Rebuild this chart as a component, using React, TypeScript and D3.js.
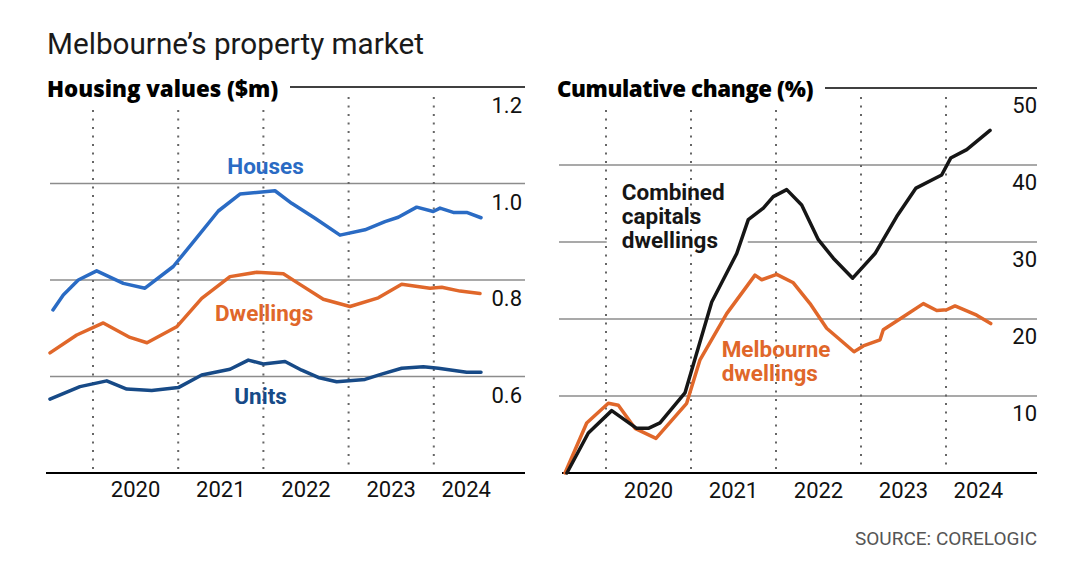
import React from "react";
import * as d3 from "d3";

// ---------- DATA ----------
const yearLines = [2020, 2021, 2022, 2023, 2024];
const yearLabels = ["2020", "2021", "2022", "2023", "2024"];
const yearLabelPos = [2020.5, 2021.5, 2022.5, 2023.5, 2024.38];

const valueTicks = [0.6, 0.8, 1.0];
const valueTickLabels = ["0.6", "0.8", "1.0"];
const valueTop = 1.2;
const valueTopLabel = "1.2";
const valueBottom = 0.4;

const changeTicks = [10, 20, 30, 40];
const changeTickLabels = ["10", "20", "30", "40"];
const changeTop = 50;
const changeTopLabel = "50";
const changeBottom = 0;

// Housing values ($m): [decimal year, value]
const houses: [number, number][] = [
  [2019.53, 0.738], [2019.651, 0.769], [2019.827, 0.8], [2020.043, 0.819],
  [2020.356, 0.793], [2020.61, 0.783], [2020.942, 0.828], [2021.197, 0.883],
  [2021.471, 0.943], [2021.725, 0.978], [2022.136, 0.985], [2022.332, 0.959],
  [2022.606, 0.928], [2022.899, 0.893], [2023.192, 0.904], [2023.427, 0.921],
  [2023.583, 0.93], [2023.799, 0.951], [2023.994, 0.942], [2024.073, 0.949],
  [2024.229, 0.94], [2024.386, 0.94], [2024.554, 0.929],
];
const dwellings: [number, number][] = [
  [2019.495, 0.649], [2019.809, 0.686], [2020.121, 0.711], [2020.434, 0.681],
  [2020.634, 0.67], [2020.982, 0.703], [2021.276, 0.762], [2021.608, 0.807],
  [2021.921, 0.816], [2022.234, 0.813], [2022.41, 0.793], [2022.703, 0.76],
  [2023.016, 0.745], [2023.349, 0.763], [2023.623, 0.791], [2023.955, 0.783],
  [2024.093, 0.785], [2024.308, 0.777], [2024.542, 0.772],
];
const units: [number, number][] = [
  [2019.495, 0.553], [2019.847, 0.579], [2020.161, 0.591], [2020.396, 0.574],
  [2020.689, 0.571], [2021.001, 0.577], [2021.276, 0.603], [2021.608, 0.615],
  [2021.823, 0.634], [2021.999, 0.626], [2022.254, 0.631], [2022.45, 0.613],
  [2022.644, 0.598], [2022.86, 0.589], [2023.192, 0.594], [2023.388, 0.605],
  [2023.623, 0.617], [2023.877, 0.62], [2024.053, 0.617], [2024.386, 0.609],
  [2024.554, 0.609],
];

// Cumulative change (%)
const combinedCapitals: [number, number][] = [
  [2019.54, 0], [2019.792, 5.2], [2020.067, 8.1], [2020.361, 5.8],
  [2020.498, 5.8], [2020.635, 6.5], [2020.929, 10.4], [2021.244, 22.2],
  [2021.538, 28.5], [2021.674, 32.9], [2021.851, 34.4], [2021.968, 35.9],
  [2022.126, 36.8], [2022.302, 34.8], [2022.498, 30.3], [2022.674, 27.9],
  [2022.902, 25.3], [2023.165, 28.5], [2023.42, 33.3], [2023.647, 37.0],
  [2023.949, 38.7], [2024.055, 40.9], [2024.244, 42.0], [2024.518, 44.5],
];
const melbourneDwellings: [number, number][] = [
  [2019.518, 0], [2019.773, 6.5], [2020.027, 9.05], [2020.145, 8.8],
  [2020.341, 5.8], [2020.588, 4.5], [2020.949, 9.05], [2021.106, 14.7],
  [2021.42, 20.7], [2021.753, 25.7], [2021.832, 25.1], [2022.008, 25.8],
  [2022.204, 24.7], [2022.4, 22.0], [2022.596, 18.8], [2022.918, 15.75],
  [2023.027, 16.5], [2023.224, 17.3], [2023.262, 18.6], [2023.498, 20.3],
  [2023.733, 22.0], [2023.891, 21.1], [2024.008, 21.2], [2024.106, 21.7],
  [2024.361, 20.5], [2024.526, 19.4],
];

// ---------- STYLE ----------
const C_HOUSES = "#2a6bc4";
const C_DWELL = "#e0672a";
const C_UNITS = "#174a87";
const C_BLACK = "#161616";
const C_GRID = "#8c8c8c";
const C_DOT = "#666";
const FONT = "Roboto, 'Noto Sans', sans-serif";
const HEAD_FONT = "'Open Sans', Roboto, sans-serif";

type Label = { lines: string[]; x: number; y: number; color: string; padL: number; w: number };

export default function App() {
  const W = 1080, H = 586;

  const xL = d3.scaleLinear().domain([2020, 2024]).range([93, 433.8]);
  const yL = d3.scaleLinear().domain([valueBottom, valueTop]).range([473, 87]);
  const xR = d3.scaleLinear().domain([2020, 2024]).range([606, 946]);
  const yR = d3.scaleLinear().domain([changeBottom, changeTop]).range([473, 88]);

  const lineL = d3.line<[number, number]>().x((d) => xL(d[0])).y((d) => yL(d[1]));
  const lineR = d3.line<[number, number]>().x((d) => xR(d[0])).y((d) => yR(d[1]));

  const leftPanel = { x0: 50, axisX0: 46, x1: 525, headerLineX: 290, headerEnd: 279 };
  const rightPanel = { x0: 559, axisX0: 562, x1: 1037, headerLineX: 825, headerEnd: 813 };

  const leftLabels: Label[] = [
    { lines: ["Houses"], x: xL(2021.576), y: yL(1.019), color: C_HOUSES, padL: 4, w: 82 },
    { lines: ["Dwellings"], x: xL(2021.432), y: yL(0.714), color: C_DWELL, padL: 4, w: 110 },
    { lines: ["Units"], x: xL(2021.658), y: yL(0.544), color: C_UNITS, padL: 4, w: 62 },
  ];
  const rightLabels: Label[] = [
    { lines: ["Combined", "capitals", "dwellings"], x: xR(2020.185), y: yR(35.5), color: C_BLACK, padL: 15, w: 126 },
    { lines: ["Melbourne", "dwellings"], x: xR(2021.361), y: yR(15.1), color: C_DWELL, padL: 4, w: 122 },
  ];

  const renderLabelBg = (l: Label, i: number) => (
    <rect
      key={"bg" + i}
      x={l.x - l.padL}
      y={l.y - 24}
      width={l.w + l.padL}
      height={(l.lines.length - 1) * 24 + 30}
      fill="#fff"
    />
  );
  const renderLabel = (l: Label, i: number) => (
    <text key={"lb" + i} x={l.x} y={l.y} fill={l.color} fontFamily={FONT} fontWeight={700} fontSize={22.5}>
      {l.lines.map((s, j) => (
        <tspan key={j} x={l.x} dy={j === 0 ? 0 : 24}>
          {s}
        </tspan>
      ))}
    </text>
  );

  const dotted = (x: (v: number) => number, headerEnd: number) =>
    yearLines.map((yr) => {
      const px = x(yr);
      return (
        <line
          key={"d" + yr}
          x1={px}
          x2={px}
          y1={px < headerEnd + 5 ? 110 : 97}
          y2={471}
          stroke={C_DOT}
          strokeWidth={2}
          strokeDasharray="2 6.5"
        />
      );
    });

  return (
    <svg width={W} height={H} style={{ position: "absolute", left: 0, top: 0, background: "#fff" }}>
      <rect x={0} y={0} width={W} height={H} fill="#fff" />
      <text x={47} y={54} fontFamily={FONT} fontSize={29.7} fill="#1a1a1a">
        Melbourne’s property market
      </text>

      {/* LEFT PANEL */}
      <text x={47} y={97} fontFamily={HEAD_FONT} fontWeight={800} fontSize={22.3} fill="#000">
        Housing values ($m)
      </text>
      {valueTicks.map((v) => (
        <line key={"g" + v} x1={leftPanel.x0} x2={leftPanel.x1} y1={yL(v)} y2={yL(v)} stroke={C_GRID} strokeWidth={1.6} />
      ))}
      <line x1={leftPanel.headerLineX} x2={leftPanel.x1} y1={yL(valueTop)} y2={yL(valueTop)} stroke="#000" strokeWidth={1.6} />
      {leftLabels.map(renderLabelBg)}
      {dotted(xL, leftPanel.headerEnd)}
      <line x1={leftPanel.axisX0} x2={leftPanel.x1} y1={yL(valueBottom)} y2={yL(valueBottom)} stroke="#000" strokeWidth={2} />
      {valueTicks.map((v, i) => (
        <text key={"t" + v} x={522} y={yL(v) + 26} textAnchor="end" fontFamily={FONT} fontSize={22} fill="#111">
          {valueTickLabels[i]}
        </text>
      ))}
      <text x={522} y={yL(valueTop) + 26} textAnchor="end" fontFamily={FONT} fontSize={22} fill="#111">
        {valueTopLabel}
      </text>
      {yearLabels.map((s, i) => (
        <text key={"yl" + s} x={xL(yearLabelPos[i])} y={497} textAnchor="middle" fontFamily={FONT} fontSize={22} fill="#111">
          {s}
        </text>
      ))}
      <path d={lineL(units) || ""} fill="none" stroke={C_UNITS} strokeWidth={3.5} strokeLinejoin="round" strokeLinecap="round" />
      <path d={lineL(dwellings) || ""} fill="none" stroke={C_DWELL} strokeWidth={3.5} strokeLinejoin="round" strokeLinecap="round" />
      <path d={lineL(houses) || ""} fill="none" stroke={C_HOUSES} strokeWidth={3.5} strokeLinejoin="round" strokeLinecap="round" />
      {leftLabels.map(renderLabel)}

      {/* RIGHT PANEL */}
      <text x={557} y={97} fontFamily={HEAD_FONT} fontWeight={800} fontSize={22.3} fill="#000" letterSpacing={-0.4}>
        Cumulative change (%)
      </text>
      {changeTicks.map((v) => (
        <line key={"rg" + v} x1={rightPanel.x0} x2={rightPanel.x1} y1={yR(v)} y2={yR(v)} stroke={C_GRID} strokeWidth={1.6} />
      ))}
      <line x1={rightPanel.headerLineX} x2={rightPanel.x1} y1={yR(changeTop)} y2={yR(changeTop)} stroke="#000" strokeWidth={1.6} />
      {rightLabels.map(renderLabelBg)}
      {dotted(xR, rightPanel.headerEnd)}
      <line x1={rightPanel.axisX0} x2={rightPanel.x1} y1={yR(changeBottom)} y2={yR(changeBottom)} stroke="#000" strokeWidth={2} />
      {changeTicks.map((v, i) => (
        <text key={"rt" + v} x={1037} y={yR(v) + 25} textAnchor="end" fontFamily={FONT} fontSize={22} fill="#111">
          {changeTickLabels[i]}
        </text>
      ))}
      <text x={1037} y={yR(changeTop) + 25} textAnchor="end" fontFamily={FONT} fontSize={22} fill="#111">
        {changeTopLabel}
      </text>
      {yearLabels.map((s, i) => (
        <text key={"ryl" + s} x={xR(yearLabelPos[i])} y={498} textAnchor="middle" fontFamily={FONT} fontSize={22} fill="#111">
          {s}
        </text>
      ))}
      <path d={lineR(melbourneDwellings) || ""} fill="none" stroke={C_DWELL} strokeWidth={3.5} strokeLinejoin="round" strokeLinecap="round" />
      <path d={lineR(combinedCapitals) || ""} fill="none" stroke={C_BLACK} strokeWidth={3.5} strokeLinejoin="round" strokeLinecap="round" />
      {rightLabels.map(renderLabel)}

      <text x={1037} y={545} textAnchor="end" fontFamily={FONT} fontSize={19} fill="#555">
        SOURCE: CORELOGIC
      </text>
    </svg>
  );
}
